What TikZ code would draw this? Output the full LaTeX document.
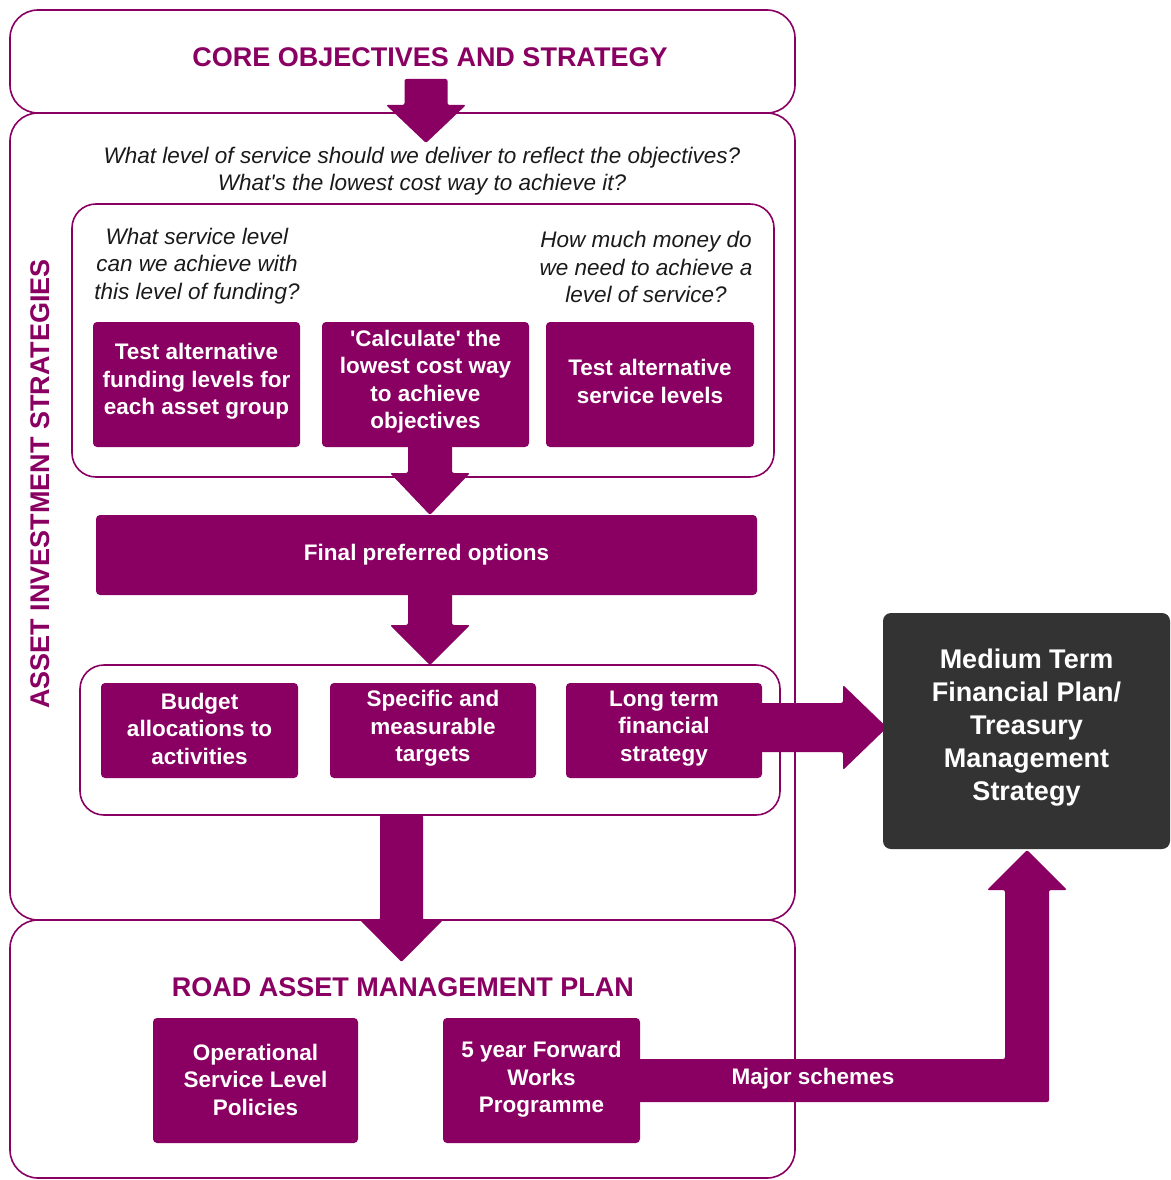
\documentclass[tikz,border=0pt]{standalone}
\usepackage{fontspec}
\setmainfont{Liberation Sans}
\definecolor{plum}{HTML}{8A0062}
\definecolor{darkbox}{HTML}{333333}
\definecolor{qgray}{HTML}{1A1A1A}
\newcommand\downblock[6]{% cx, ytop, ybase, ytip, half shaft, half head
  \fill[plum, rounded corners=2pt] (#1-#5,#2) -- (#1-#5,#3) -- (#1-#6,#3) -- (#1,#4) -- (#1+#6,#3) -- (#1+#5,#3) -- (#1+#5,#2) -- cycle;}
\begin{document}
\begin{tikzpicture}[x=1pt,y=-1pt,
  outerbox/.style={draw=plum, line width=1.6pt, rounded corners=28pt},
  innerbox/.style={draw=plum, line width=1.6pt, rounded corners=24pt},
  pbox/.style={fill=plum, rounded corners=4pt, inner sep=0pt},
  btext/.style={text=white, font=\fontsize{22.5}{27.5}\selectfont\bfseries, align=center, inner sep=0pt},
  qtext/.style={text=qgray, font=\fontsize{22.5}{27.5}\selectfont\itshape, align=center, inner sep=0pt},
  titletext/.style={text=plum, font=\fontsize{27}{32}\selectfont\bfseries, inner sep=0pt},
  ]
\useasboundingbox (0,0) rectangle (1170,1180);

% outer containers
\draw[outerbox] (10,10) rectangle (795,113);
\draw[outerbox] (10,113) rectangle (795,920);
\draw[outerbox] (10,920) rectangle (795,1178);

% inner containers
\draw[innerbox] (72,204) rectangle (774,477);
\draw[innerbox] (80,665) rectangle (780,815);

% titles
\node[titletext] (core) at (430,57) {CORE OBJECTIVES AND STRATEGY};
\node[titletext, rotate=90] (ais) at (40,484) {ASSET INVESTMENT STRATEGIES};
\node[titletext] (ramp) at (403,987) {ROAD ASSET MANAGEMENT PLAN};

% questions
\node[qtext] (q1) at (422,171) {What level of service should we deliver to reflect the objectives?\\What\textquotesingle s the lowest cost way to achieve it?};
\node[qtext] (q2) at (197,266) {What service level\\can we achieve with\\this level of funding?};
\node[qtext] (q3) at (646,267) {How much money do\\we need to achieve a\\level of service?};

% block arrows (drawn beneath boxes)
\downblock{426}{79}{105}{143}{21.5}{40}
\downblock{430}{440}{473}{515}{22}{40}
\downblock{430}{590}{625}{665}{22}{40}
\downblock{401.5}{815}{920}{962}{21.5}{41.5}

% purple boxes
\node[pbox, minimum width=207pt, minimum height=125pt] (A) at (196.5,384.5) {};
\node[pbox, minimum width=207pt, minimum height=125pt] (B) at (425.5,384.5) {};
\node[pbox, minimum width=208pt, minimum height=125pt] (C) at (650,384.5) {};
\node[pbox, minimum width=661pt, minimum height=80pt] (fpo) at (426.5,555) {};
\node[pbox, minimum width=197pt, minimum height=95pt] (D) at (199.5,730.5) {};
\node[pbox, minimum width=206pt, minimum height=95pt] (E) at (433,730.5) {};
\node[pbox, minimum width=196pt, minimum height=95pt] (F) at (664,730.5) {};
\node[pbox, minimum width=205pt, minimum height=125pt] (G) at (255.5,1080.5) {};
\node[pbox, minimum width=197pt, minimum height=125pt] (H) at (541.5,1080.5) {};

% right arrow to MTFP (from F)
\fill[plum, rounded corners=2pt] ([xshift=-4pt]F.east |- 0,703) -- (843,703) -- (843,685) -- (887,727.5) -- (843,770) -- (843,752) -- ([xshift=-4pt]F.east |- 0,752) -- cycle;
% major schemes arrow (from H)
\fill[plum, rounded corners=2pt] ([xshift=-4pt]H.east |- 0,1059) -- (1005,1059) -- (1005,890) -- (987,890) -- (1027,850) -- (1067,890) -- (1049,890) -- (1049,1102) -- ([xshift=-4pt]H.east |- 0,1102) -- cycle;

% box texts
\node[btext] (At) at ([yshift=3pt]A.center) {Test alternative\\funding levels for\\each asset group};
\node[btext] (Bt) at ([yshift=3pt]B.center) {\textquotesingle Calculate\textquotesingle{} the\\lowest cost way\\to achieve\\objectives};
\node[btext] (Ct) at ([yshift=3pt]C.center) {Test alternative\\service levels};
\node[btext] (fpot) at (fpo.center) {Final preferred options};
\node[btext] (Dt) at ([yshift=2pt]D.center) {Budget\\allocations to\\activities};
\node[btext] (Et) at ([yshift=2pt]E.center) {Specific and\\measurable\\targets};
\node[btext] (Ft) at ([yshift=2pt]F.center) {Long term\\financial\\strategy};
\node[btext] (Gt) at ([yshift=1pt]G.center) {Operational\\Service Level\\Policies};
\node[btext] (Ht) at ([yshift=1pt]H.center) {5 year Forward\\Works\\Programme};

% dark box
\node[fill=darkbox, rounded corners=8pt, minimum width=287pt, minimum height=236pt, inner sep=0pt] (mtfp) at (1026.5,731) {};
\node[text=white, font=\fontsize{27}{33}\selectfont\bfseries, align=center, inner sep=0pt] (mtfpt) at ([yshift=3pt]mtfp.center)
      {Medium Term\\Financial Plan/\\Treasury\\Management\\Strategy};

% label on major schemes arrow
\node[btext] (major) at (813,1079) {Major schemes};
\end{tikzpicture}
\end{document}
